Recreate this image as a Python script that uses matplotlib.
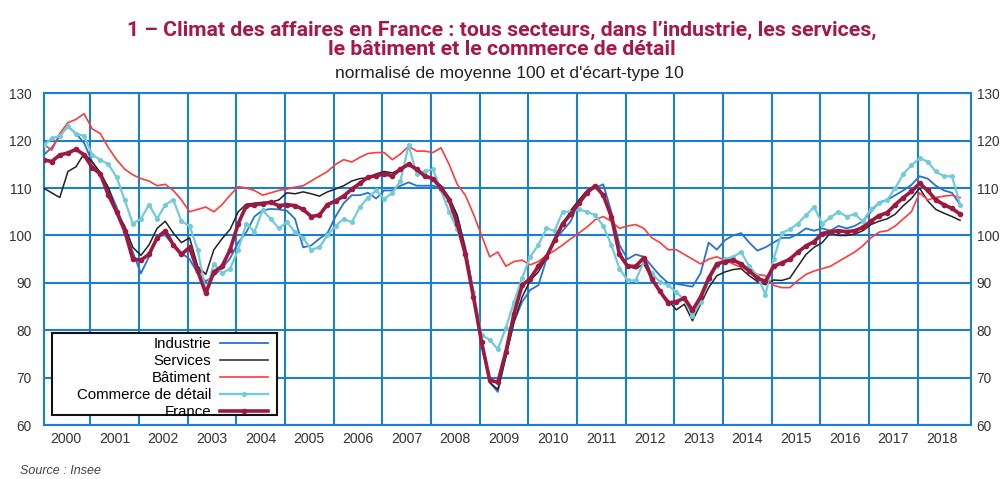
import numpy as np
import matplotlib
matplotlib.use("Agg")
import matplotlib.pyplot as plt
from matplotlib.patches import Rectangle

# valeurs lues tous les deux mois (janv, mars, mai, juil, sept, nov), 2000-2018
annees = list(range(2000, 2019))

industrie = [
    117.0, 118.5, 121.0, 123.0, 121.5, 119.5,
    115.5, 113.0, 110.0, 106.0, 101.0, 96.5,
    92.0, 95.5, 100.0, 100.0, 98.0, 96.3,
    95.0, 92.0, 90.3, 91.6, 93.0, 95.2,
    98.5, 100.7, 104.0, 105.3, 105.6, 105.5,
    105.2, 103.5, 97.5, 97.9, 99.3, 100.5,
    104.0, 106.8, 108.5, 108.5, 109.0, 107.8,
    109.5, 109.5, 110.5, 111.2, 110.5, 110.5,
    110.5, 110.0, 108.0, 104.0, 97.5, 88.0,
    77.0, 69.0, 67.0, 74.5, 81.8, 86.0,
    88.5, 89.5, 95.0, 99.0, 101.0, 103.0,
    107.3, 109.3, 110.0, 110.8, 105.0, 98.0,
    95.0, 96.0, 95.5, 93.5, 91.5, 90.0,
    89.8, 89.5, 89.2, 92.0, 98.5, 97.0,
    99.0, 100.0, 100.5, 98.5, 96.8, 97.5,
    98.5, 99.5, 99.5, 100.3, 101.5, 101.0,
    101.5, 101.0, 102.0, 101.5, 102.0, 103.0,
    105.0, 107.0, 107.5, 108.5, 109.5, 110.7,
    112.5, 112.0, 110.5, 109.5, 109.0, 106.5]

services = [
    110.0, 109.0, 108.0, 113.5, 114.5, 117.3,
    115.5, 113.3, 110.0, 105.0, 102.0, 97.5,
    95.8, 98.0, 101.5, 103.0, 100.5, 98.5,
    99.5, 93.5, 91.8, 97.0, 99.3, 101.3,
    105.0, 106.6, 106.8, 107.0, 107.0, 107.5,
    109.0, 108.8, 109.2, 108.8, 108.3, 109.2,
    109.8, 110.5, 111.5, 112.0, 112.2, 113.0,
    113.5, 113.2, 114.0, 115.3, 113.5, 112.8,
    112.0, 110.5, 108.0, 104.3, 97.0, 88.0,
    77.0, 69.0, 67.5, 74.5, 81.8, 87.0,
    90.5, 92.3, 95.3, 99.0, 102.3, 105.3,
    107.5, 109.5, 110.5, 108.5, 103.5, 96.5,
    93.5, 93.0, 94.0, 90.8, 88.0, 86.3,
    84.3, 85.5, 82.0, 85.5, 89.0, 91.5,
    92.3, 92.8, 93.0, 91.5, 90.3, 89.6,
    90.6, 90.5, 91.0, 93.5, 96.0, 97.5,
    98.5, 100.5, 100.0, 100.0, 100.3, 101.0,
    102.3, 103.0, 103.5, 104.5, 106.3, 107.8,
    110.0, 107.3, 105.5, 104.7, 104.0, 103.2]

batiment = [
    119.3, 118.0, 121.5, 123.8, 124.5, 125.7,
    122.5, 121.5, 118.5, 116.0, 114.0, 112.8,
    112.0, 111.5, 110.5, 110.8, 109.5, 107.5,
    105.0, 105.5, 106.0, 105.0, 106.5, 108.5,
    110.3, 110.0, 109.5, 108.5, 109.0, 109.5,
    109.8, 110.2, 110.5, 111.5, 112.5, 113.5,
    115.0, 116.0, 115.5, 116.5, 117.3, 117.5,
    117.5, 116.0, 117.2, 118.8, 117.8, 117.8,
    117.5, 118.5, 115.0, 110.8, 108.5, 104.5,
    100.0, 95.5, 96.5, 93.5, 94.5, 94.8,
    93.8, 94.5, 95.8, 96.8, 98.0, 99.3,
    100.5, 101.8, 103.3, 104.0, 103.0, 101.5,
    102.0, 102.3, 101.5, 99.5, 98.5, 97.0,
    97.0, 96.0, 95.0, 94.0, 95.0, 95.5,
    94.8, 94.0, 93.3, 92.5, 91.8, 91.5,
    89.5, 89.0, 89.0, 90.5, 91.8, 92.5,
    93.0, 93.5, 94.5, 95.5, 96.5, 97.8,
    99.5, 100.7, 101.0, 102.0, 103.5, 105.0,
    109.0, 107.5, 108.0, 108.3, 108.5, 108.0]

commerce = [
    119.0, 120.5, 121.0, 123.0, 121.5, 121.0,
    117.0, 116.0, 115.0, 112.3, 107.5, 102.5,
    103.5, 106.5, 103.5, 106.5, 107.5, 103.0,
    102.0, 97.0, 88.0, 94.0, 92.0, 93.0,
    97.0, 102.5, 100.8, 105.3, 103.5, 101.5,
    102.8, 100.7, 99.5, 97.0, 97.5, 100.0,
    102.0, 103.5, 102.8, 106.0, 108.0, 109.5,
    107.7, 109.0, 111.5, 119.0, 113.0, 113.5,
    114.0, 109.5, 105.0, 101.3, 96.0, 88.0,
    79.0, 78.0, 76.0, 80.5, 86.0, 91.0,
    95.5, 98.0, 101.5, 101.0, 105.0, 105.0,
    105.5, 105.0, 104.3, 102.0, 98.0, 93.0,
    90.5, 90.5, 94.5, 92.0, 90.2, 89.5,
    88.0, 86.5, 83.0, 86.0, 90.5, 93.5,
    95.0, 95.5, 96.5, 93.5, 91.5, 87.5,
    95.0, 100.5, 101.3, 102.5, 104.3, 106.0,
    102.5, 103.8, 105.0, 104.0, 104.5, 103.0,
    105.5, 106.8, 107.5, 110.0, 113.0, 114.8,
    116.3, 115.6, 113.5, 112.5, 112.5, 106.5]

france = [
    116.0, 115.6, 117.0, 117.4, 118.2, 117.0,
    114.3, 113.0, 108.5, 105.0, 101.0, 95.0,
    94.8, 96.0, 99.5, 101.0, 98.0, 96.0,
    97.5, 92.5, 87.8, 92.3, 93.5, 97.0,
    102.5, 106.3, 106.5, 106.7, 107.0, 106.3,
    106.5, 106.3, 105.5, 104.0, 104.3, 106.5,
    107.3, 108.3, 109.8, 111.0, 112.3, 112.6,
    113.0, 112.6, 114.0, 115.0, 114.0, 112.5,
    112.0, 110.0, 107.5, 102.5, 96.0, 87.0,
    77.5, 69.5, 69.0, 75.5, 83.5, 89.5,
    90.9, 93.5, 95.5, 99.0, 102.5, 104.5,
    106.8, 109.0, 110.5, 108.5, 104.0, 96.0,
    93.5, 93.5, 95.3, 90.8, 88.2, 85.8,
    86.0, 86.8, 84.2, 87.0, 91.0, 94.0,
    94.5, 94.8, 94.0, 92.5, 91.0, 90.3,
    93.5, 94.2, 95.0, 96.5, 97.8, 98.7,
    100.4, 100.8, 101.0, 100.8, 101.0, 101.7,
    103.0, 104.2, 104.8, 106.5, 108.0, 109.3,
    111.0, 109.5, 107.5, 106.5, 105.7, 104.5]

# dates : milieu du mois, un point tous les deux mois
t = np.array([a + (2 * k) / 12 + 1 / 24 for a in annees for k in range(6)])

grille = "#1a7fd0"
police = "Liberation Sans"
titre_coul = "#a8174a"

fig = plt.figure(figsize=(10.04, 4.79), dpi=100)
ax = fig.add_axes([0.0438, 0.1127, 0.9234, 0.6925])

ax.plot(t, industrie, color="#2a72cf", lw=1.3, label="Industrie", zorder=3)
ax.plot(t, services, color="#222222", lw=1.1, label="Services", zorder=3)
ax.plot(t, batiment, color="#ff3b3b", lw=1.2, label="Bâtiment", zorder=3)
ax.plot(t, commerce, color="#72cbd8", lw=1.6, marker="o", ms=2.6,
        label="Commerce de détail", zorder=4)
ax.plot(t, france, color="#9e1840", lw=2.6, marker="o", ms=3.0,
        label="France", zorder=5)

ax.set_xlim(2000.05, 2019.1)
ax.set_ylim(60, 130)

# grille aux débuts d'année, étiquettes au milieu
ax.set_xticks(range(2001, 2019))
ax.set_xticklabels([])
ax.set_xticks([a + 0.5 for a in annees], minor=True)
ax.set_xticklabels([str(a) for a in annees], minor=True,
                   fontsize=10.2, family=police, color="#333333")
ax.tick_params(axis="x", which="both", length=0)
ax.tick_params(axis="x", which="minor", pad=5)

ax.set_yticks(range(60, 131, 10))
ax.tick_params(axis="y", length=0, labelsize=9.8, pad=9, labelcolor="#333333")
for lab in ax.get_yticklabels():
    lab.set_family(police)

# graduation de droite, plus près du cadre
droite = ax.secondary_yaxis("right")
droite.set_yticks(range(60, 131, 10))
droite.tick_params(length=0, labelsize=9.8, pad=4, labelcolor="#333333")
droite.spines["right"].set_visible(False)
for lab in droite.get_yticklabels():
    lab.set_family(police)

ax.grid(True, which="major", color=grille, lw=1.5)
ax.set_axisbelow(True)
for sp in ax.spines.values():
    sp.set_color(grille)
    sp.set_linewidth(1.5)

# cadre de la légende dessiné à part, texte aligné à droite
cadre = Rectangle((0.0086, 0.030), 0.2427, 0.247, transform=ax.transAxes,
                  facecolor="white", edgecolor="#111111", lw=1.5, zorder=9)
ax.add_patch(cadre)
leg = ax.legend(loc="upper right", bbox_to_anchor=(0.2416, 0.2653),
                markerfirst=False, frameon=False,
                labelspacing=0.2, handlelength=3.2, handletextpad=0.6,
                borderpad=0, borderaxespad=0,
                prop={"family": police, "size": 10.8})
leg.set_zorder(10)

fig.text(0.5, 0.937, "1 – Climat des affaires en France : tous secteurs, dans l’industrie, les services,",
         ha="center", va="center", fontsize=15.3, fontweight="bold",
         color=titre_coul, family="Roboto")
fig.text(0.5, 0.897, "le bâtiment et le commerce de détail",
         ha="center", va="center", fontsize=15.3, fontweight="bold",
         color=titre_coul, family="Roboto")
fig.text(0.507, 0.846, "normalisé de moyenne 100 et d'écart-type 10",
         ha="center", va="center", fontsize=12.5, family=police, color="#222222")
fig.text(0.02, 0.004, "Source : Insee", ha="left", va="bottom",
         fontsize=9, style="italic", family=police, color="#444444")

fig.savefig("out.png", dpi=100)
